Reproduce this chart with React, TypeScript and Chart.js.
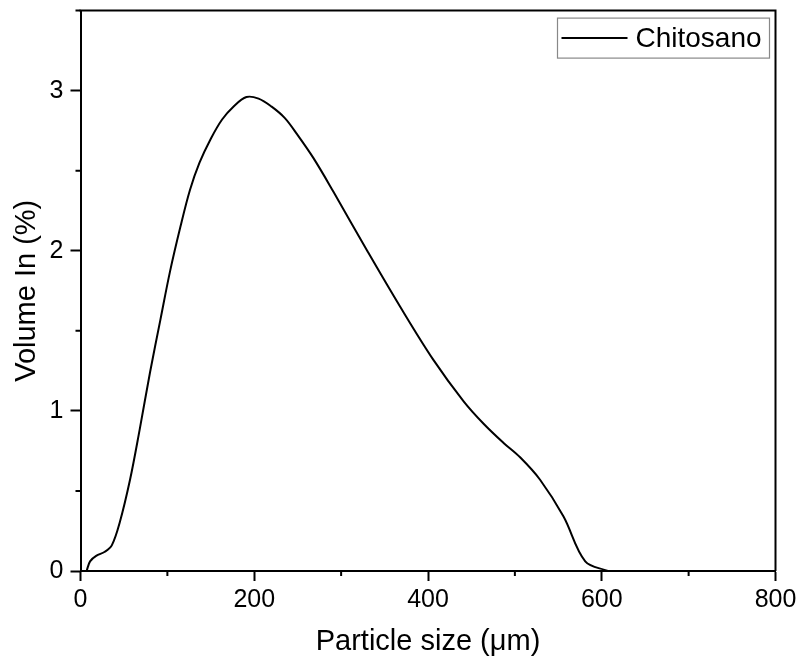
import React, { useEffect, useRef } from "react";
import { Chart, registerables } from "chart.js";

Chart.register(...registerables);

const sizes = [7, 11, 18, 28, 36, 45, 57, 68, 80, 92, 103, 115, 126, 137, 150, 163, 176, 191, 205, 220, 235, 249, 268, 291, 330, 368, 406, 441, 464, 487, 506, 529, 556, 581, 607];
const volumes = [0, 0.06, 0.094, 0.12, 0.16, 0.3, 0.57, 0.88, 1.24, 1.57, 1.87, 2.15, 2.38, 2.55, 2.7, 2.82, 2.9, 2.96, 2.95, 2.9, 2.83, 2.73, 2.58, 2.37, 2.0, 1.65, 1.32, 1.06, 0.92, 0.8, 0.71, 0.57, 0.34, 0.06, 0.0];
const seriesLabel = "Chitosano";
const xTitle = "Particle size (μm)";
const yTitle = "Volume In (%)";
const xMinorTicks = [100, 300, 500, 700];
const yMinorTicks = [0.5, 1.5, 2.5, 3.5];

const FONT = "'Liberation Sans', Arial, sans-serif";

const framePlugin = {
  id: "frame",
  afterDraw(chart: any) {
    const { ctx, chartArea, scales } = chart;
    const { left, right, top, bottom } = chartArea;
    ctx.save();
    ctx.strokeStyle = "#000";
    ctx.lineWidth = 2;
    ctx.beginPath();
    ctx.moveTo(left - 1, top);
    ctx.lineTo(right, top);
    ctx.lineTo(right, bottom);
    ctx.stroke();
    // minor ticks
    ctx.beginPath();
    for (const v of xMinorTicks) {
      const px = scales.x.getPixelForValue(v);
      ctx.moveTo(px, bottom);
      ctx.lineTo(px, bottom + 5);
    }
    for (const v of yMinorTicks) {
      const py = scales.y.getPixelForValue(v);
      ctx.moveTo(left - 5, py);
      ctx.lineTo(left, py);
    }
    ctx.stroke();
    // legend
    const bx = right - 218;
    const by = top + 7.5;
    const bw = 212;
    const bh = 40;
    ctx.fillStyle = "#fff";
    ctx.fillRect(bx, by, bw, bh);
    ctx.strokeStyle = "#888";
    ctx.lineWidth = 1.2;
    ctx.strokeRect(bx, by, bw, bh);
    ctx.strokeStyle = "#000";
    ctx.lineWidth = 2;
    ctx.beginPath();
    ctx.moveTo(bx + 4, by + bh / 2);
    ctx.lineTo(bx + 70, by + bh / 2);
    ctx.stroke();
    ctx.fillStyle = "#000";
    ctx.font = `28px ${FONT}`;
    ctx.textBaseline = "middle";
    ctx.textAlign = "left";
    ctx.fillText(seriesLabel, bx + 78, by + bh / 2 + 1);
    ctx.restore();
  },
};

export default function App() {
  const ref = useRef<HTMLCanvasElement | null>(null);

  useEffect(() => {
    if (!ref.current) return;
    const chart = new Chart(ref.current, {
      type: "line",
      data: {
        datasets: [
          {
            label: seriesLabel,
            data: sizes.map((x, i) => ({ x, y: volumes[i] })),
            borderColor: "#000",
            borderWidth: 2,
            pointRadius: 0,
            tension: 0.35,
            fill: false,
          },
        ],
      },
      options: {
        animation: false,
        responsive: false,
        devicePixelRatio: 1,
        layout: { padding: { left: 0, right: 22.5, top: 10.6, bottom: 0 } },
        plugins: { legend: { display: false }, tooltip: { enabled: false } },
        scales: {
          x: {
            type: "linear",
            min: 0,
            max: 800,
            afterFit: (s: any) => {
              s.height = 91;
              s.paddingLeft = 0;
              s.paddingRight = 0;
              s.paddingTop = 0;
              s.paddingBottom = 0;
            },
            ticks: {
              stepSize: 200,
              includeBounds: false,
              padding: 4,
              color: "#000",
              font: { family: FONT, size: 25 },
              maxRotation: 0,
            },
            grid: {
              drawOnChartArea: false,
              drawTicks: true,
              tickLength: 10,
              tickWidth: 2,
              tickColor: "#000",
              color: "#000",
            },
            border: { display: true, color: "#000", width: 2 },
            title: {
              display: true,
              text: xTitle,
              color: "#000",
              font: { family: FONT, size: 29 },
              padding: { top: 0, bottom: 3 },
            },
          },
          y: {
            type: "linear",
            min: 0,
            max: 3.5,
            afterFit: (s: any) => {
              s.width = 80.5;
              s.paddingLeft = 0;
              s.paddingRight = 0;
              s.paddingTop = 0;
              s.paddingBottom = 0;
            },
            ticks: {
              stepSize: 1,
              includeBounds: false,
              padding: 7,
              color: "#000",
              font: { family: FONT, size: 25 },
            },
            grid: {
              drawOnChartArea: false,
              drawTicks: true,
              tickLength: 10,
              tickWidth: 2,
              tickColor: "#000",
              color: "#000",
            },
            border: { display: true, color: "#000", width: 2 },
            title: {
              display: true,
              text: yTitle,
              color: "#000",
              font: { family: FONT, size: 29 },
              padding: { top: 10, bottom: 0 },
            },
          },
        },
      },
      plugins: [framePlugin],
    } as any);
    return () => chart.destroy();
  }, []);

  return (
    <div style={{ position: "absolute", left: 0, top: 0, width: 798, height: 662, background: "#fff" }}>
      <canvas ref={ref} width={798} height={662} style={{ display: "block", width: 798, height: 662 }} />
    </div>
  );
}
